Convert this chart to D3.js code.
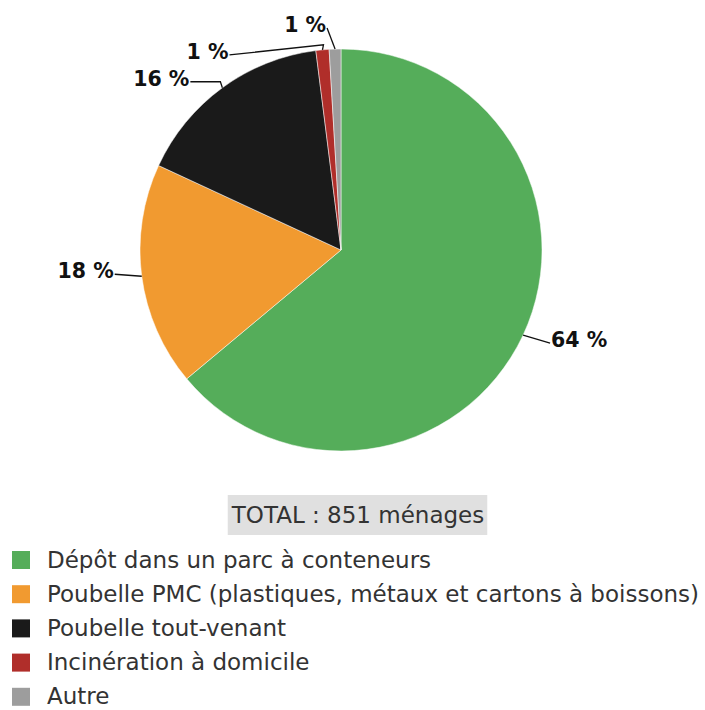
<!DOCTYPE html>
<html>
<head>
<meta charset="utf-8">
<script src="https://cdn.jsdelivr.net/npm/d3@7"></script>
<style>
  body { margin: 0; background: #fff; }
  svg { display: block; font-family: "DejaVu Sans", sans-serif; }
</style>
</head>
<body>
<div class="vis-area"></div>
<script>
var width = 705;
var height = 710;

// data (households, total 851)
var categories = [
  "Dépôt dans un parc à conteneurs",
  "Poubelle PMC (plastiques, métaux et cartons à boissons)",
  "Poubelle tout-venant",
  "Incinération à domicile",
  "Autre"
];
var counts = [544, 153, 137, 9, 8];
var percentLabels = ["64 %", "18 %", "16 %", "1 %", "1 %"];
var totalLabel = "TOTAL : 851 ménages";

var colors = ["#55ad5a", "#f19a30", "#1a1a1a", "#b02e2a", "#9d9d9d"];

// leader line layout: offsets from slice edge point
var labelElbow = [null, null, [-2, -6], [1, -5], null];
var labelEnd = [[27, 8], [-27, -2], [-32, -6], [-93, 5], [-8, -21]];

var cx = 341, cy = 250, radius = 201;

var svg = d3.select('.vis-area')
  .append('svg')
  .attr('width', width)
  .attr('height', height);

var pie = d3.pie().sort(null).value(d => d);
var arcs = pie(counts);

var arc = d3.arc().innerRadius(0).outerRadius(radius);
var edgeArc = d3.arc().innerRadius(radius).outerRadius(radius);

var g = svg.append('g').attr('transform', `translate(${cx},${cy})`);

g.selectAll('.slice')
  .data(arcs)
  .enter()
  .append('path')
  .attr('class', 'slice')
  .attr('d', arc)
  .attr('fill', (d, i) => colors[i])
  .attr('stroke', '#fff')
  .attr('stroke-width', 0.5);

// percentage labels with leader lines
arcs.forEach(function(d, i) {
  var p0 = edgeArc.centroid(d);
  var pts = [p0];
  if (labelElbow[i]) pts.push([p0[0] + labelElbow[i][0], p0[1] + labelElbow[i][1]]);
  var end = [p0[0] + labelEnd[i][0], p0[1] + labelEnd[i][1]];
  pts.push(end);

  g.append('path')
    .attr('d', d3.line()(pts))
    .attr('fill', 'none')
    .attr('stroke', '#111')
    .attr('stroke-width', 1.3);

  var right = labelEnd[i][0] > 0;
  g.append('text')
    .attr('x', end[0] + (right ? 1 : -1))
    .attr('y', end[1] + 4)
    .attr('text-anchor', right ? 'start' : 'end')
    .attr('font-size', 20.5)
    .attr('font-weight', 'bold')
    .attr('fill', '#111')
    .text(percentLabels[i]);
});

// total box
var total = svg.append('g');
var totalText = total.append('text')
  .attr('x', 358)
  .attr('y', 523)
  .attr('text-anchor', 'middle')
  .attr('font-size', 23)
  .attr('fill', '#333')
  .text(totalLabel);
var bb = totalText.node().getBBox();
total.insert('rect', 'text')
  .attr('x', bb.x - 3)
  .attr('y', 495)
  .attr('width', bb.width + 6)
  .attr('height', 40)
  .attr('fill', '#e0e0e0');

// legend
var legend = svg.selectAll('.legend')
  .data(categories)
  .enter()
  .append('g')
  .attr('class', 'legend')
  .attr('transform', (d, i) => `translate(12,${560 + i * 34.2})`);

legend.append('rect')
  .attr('x', 0)
  .attr('y', -9)
  .attr('width', 18)
  .attr('height', 18)
  .attr('fill', (d, i) => colors[i]);

legend.append('text')
  .attr('x', 35)
  .attr('y', 7.5)
  .attr('font-size', 23)
  .attr('fill', '#333')
  .text(d => d);
</script>
</body>
</html>
